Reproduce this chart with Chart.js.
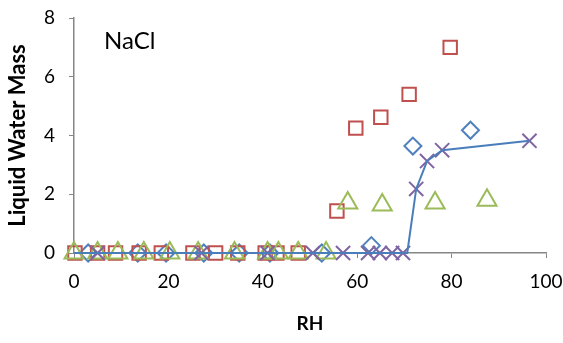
<!DOCTYPE html>
<html>
<head>
<meta charset="utf-8">
<script src="https://cdn.jsdelivr.net/npm/chart.js@4"></script>
<style>
  body { margin: 0; background: #fff; }
  #wrap { position: relative; width: 563px; height: 343px; }
  #label { position: absolute; left: 104px; top: 25px; font: 24px Lato, sans-serif; color: #000; }
</style>
</head>
<body>
<div id="wrap">
  <canvas id="myChart" width="563" height="343"></canvas>
  <div id="label">NaCl</div>
</div>
<script>
// measured points (RH, liquid water mass)
var diamondX = [3, 13.5, 19.5, 27.5, 35, 41.5, 52.5, 63, 71.8, 84];
var diamondY = [0, 0, 0, 0, 0, 0, 0, 0.25, 3.64, 4.18];

var squareX = [0.2, 5, 8.8, 13.8, 18.5, 25.2, 30, 34.7, 40.5, 43, 47.5, 55.7, 59.7, 65, 71, 79.7];
var squareY = [0, 0, 0, 0, 0, 0, 0, 0, 0, 0, 0, 1.43, 4.25, 4.62, 5.4, 7.0];

var triangleX = [0, 5, 9.3, 14.8, 20.3, 26.3, 34, 41, 43.3, 47.5, 53.4, 58, 65.3, 76.5, 87.5];
var triangleY = [0, 0, 0, 0, 0, 0, 0, 0, 0, 0, 0, 1.7, 1.63, 1.7, 1.8];

var crossX = [5, 27, 41, 50.6, 57, 62.3, 64.8, 67.4, 69.7, 72.5, 74.8, 78, 96.5];
var crossY = [0, 0, 0, 0, 0, 0, 0, 0, 0, 2.18, 3.13, 3.5, 3.82];

var lineX = [0, 70.6, 72.5, 74.8, 78, 96.5];
var lineY = [0, 0, 2.18, 3.13, 3.5, 3.82];

var xTicks = [0, 20, 40, 60, 80, 100];
var yTicks = [0, 2, 4, 6, 8];

function pts(xs, ys){
    var out = [];
    for(var i=0; i<xs.length; i++){
        out.push({x: xs[i], y: ys[i]});
    }
    return out;
}

function markers(data, color, style, r, order){
    return {
        data: data,
        showLine: false,
        pointStyle: style,
        pointRadius: r,
        pointBorderColor: color,
        pointBackgroundColor: 'rgba(0,0,0,0)',
        pointBorderWidth: 2,
        clip: false,
        order: order
    };
}

var gray = '#868686';
var ctx = document.getElementById('myChart').getContext('2d');
var myChart = new Chart(ctx, {
    type: 'scatter',
    data: {
        datasets: [
            {
                data: pts(lineX, lineY),
                showLine: true,
                borderColor: '#4A7EBB',
                borderWidth: 2,
                pointRadius: 0,
                clip: false,
                order: 0
            },
            markers(pts(crossX, crossY), '#8064A2', 'crossRot', 10, 1),
            markers(pts(triangleX, triangleY), '#9BBB59', 'triangle', 11, 2),
            markers(pts(squareX, squareY), '#C0504D', 'rect', 9.5, 3),
            markers(pts(diamondX, diamondY), '#4F81BD', 'rectRot', 8.5, 4)
        ]
    },
    options: {
        responsive: false,
        animation: false,
        layout: { padding: { left: 5, right: 17, top: 18, bottom: 4 } },
        plugins: { legend: { display: false }, tooltip: { enabled: false } },
        scales: {
            x: {
                type: 'linear',
                min: 0, max: 100,
                afterBuildTicks: function(s){ s.ticks = xTicks.map(function(v){ return {value: v}; }); },
                afterFit: function(s){ s.height = 86; s.paddingLeft = 0; s.paddingRight = 0; },
                border: { color: gray, width: 1.5 },
                grid: { drawOnChartArea: false, drawTicks: true, tickLength: 5, color: gray },
                ticks: { color: '#000', font: { family: 'Lato', size: 19 }, padding: 12 },
                title: { display: true, text: 'RH', color: '#000', font: { family: 'Lato', size: 19, weight: 'bold' }, padding: { top: 6 } }
            },
            y: {
                type: 'linear',
                min: 0, max: 8,
                afterBuildTicks: function(s){ s.ticks = yTicks.map(function(v){ return {value: v}; }); },
                afterFit: function(s){ s.width = 69; s.paddingTop = 0; s.paddingBottom = 0; },
                border: { color: gray, width: 1.5 },
                grid: { drawOnChartArea: false, drawTicks: true, tickLength: 5, color: gray },
                ticks: { color: '#000', font: { family: 'Lato', size: 19 }, padding: 14 },
                title: { display: true, text: 'Liquid Water Mass', color: '#000', font: { family: 'Lato', size: 22, weight: 'bold' }, padding: 0 }
            }
        }
    }
});
</script>
</body>
</html>
